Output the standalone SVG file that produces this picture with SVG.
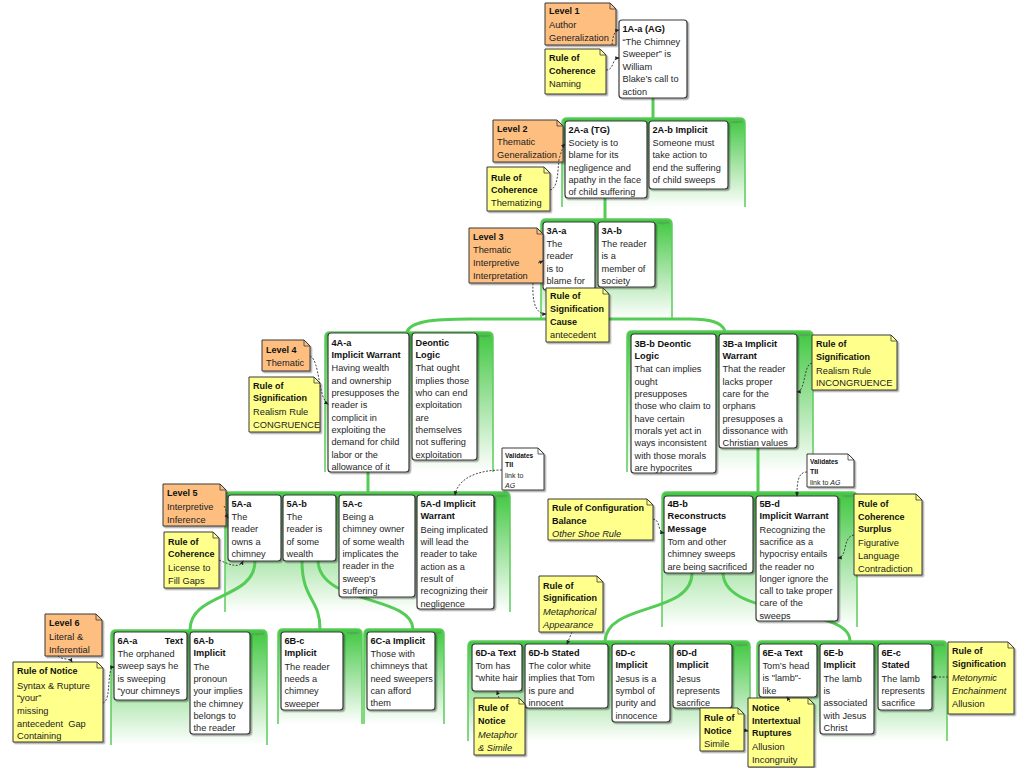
<svg xmlns="http://www.w3.org/2000/svg" width="1024" height="768" viewBox="0 0 1024 768">
<defs>
<linearGradient id="gg" x1="0" y1="0" x2="0" y2="1">
<stop offset="0" stop-color="#3FC83F"/>
<stop offset="0.45" stop-color="#98E098"/>
<stop offset="1" stop-color="#FFFFFF"/>
</linearGradient>
<filter id="sh" x="-10%" y="-10%" width="130%" height="130%">
<feDropShadow dx="1.5" dy="1.5" stdDeviation="0.7" flood-color="#000" flood-opacity="0.35"/>
</filter>
<marker id="ah" viewBox="0 0 6 6" refX="5" refY="3" markerWidth="5" markerHeight="5" orient="auto">
<path d="M0,0.5 L6,3 L0,5.5 Z" fill="#222"/>
</marker>
<style>
.c{fill:url(#gg);stroke:#5CCB5C;stroke-width:1.5}
.sup{font-family:'Liberation Sans',sans-serif;font-size:3.5px;fill:#777}
.lk{fill:none;stroke:#55CC55;stroke-width:3}
.nd{fill:#fff;stroke:#3a3a3a;stroke-width:1.2;filter:url(#sh)}
.no{fill:#FDBE80;stroke:#3a3a3a;stroke-width:1;filter:url(#sh)}
.ny{fill:#FFFF8C;stroke:#3a3a3a;stroke-width:1;filter:url(#sh)}
.nw{fill:#fff;stroke:#3a3a3a;stroke-width:1;filter:url(#sh)}
.fold{fill:none;stroke:#3a3a3a;stroke-width:0.8}
.t{font-family:'Liberation Sans',Arial,sans-serif;font-size:9.2px;fill:#262626}
.b{font-weight:bold;fill:#111}
.n{font-family:'Liberation Sans',Arial,sans-serif;font-size:9.3px;fill:#222}
.nb{font-weight:bold;font-size:9px;fill:#111}
.i{font-style:italic}
.d{fill:none;stroke:#333;stroke-width:0.9;stroke-dasharray:2 1.5;marker-end:url(#ah)}
</style>
</defs>
<rect width="1024" height="768" fill="#fff"/>

<g id="containers">
<path class="c" d="M562,207V123Q562,118 567,118H740Q745,118 745,123V207"/>
<text class="sup" x="742" y="123" text-anchor="end">support</text>
<path class="c" d="M541,319V224Q541,219 546,219H667Q672,219 672,224V319"/>
<text class="sup" x="669" y="224" text-anchor="end">support</text>
<path class="c" d="M325,472V337Q325,332 330,332H488Q493,332 493,337V472"/>
<text class="sup" x="490" y="337" text-anchor="end">support</text>
<path class="c" d="M627,472V336Q627,331 632,331H808Q813,331 813,336V472"/>
<text class="sup" x="810" y="336" text-anchor="end">support</text>
<path class="c" d="M225,612V497Q225,492 230,492H505Q510,492 510,497V612"/>
<text class="sup" x="507" y="497" text-anchor="end">support</text>
<path class="c" d="M662,627V497Q662,492 667,492H852Q857,492 857,497V627"/>
<text class="sup" x="854" y="497" text-anchor="end">support</text>
<path class="c" d="M111,745V635Q111,630 116,630H262Q267,630 267,635V745"/>
<text class="sup" x="264" y="635" text-anchor="end">support</text>
<path class="c" d="M278,724V634Q278,629 283,629H357Q362,629 362,634V724"/>
<text class="sup" x="359" y="634" text-anchor="end">support</text>
<path class="c" d="M364,724V634Q364,629 369,629H439Q444,629 444,634V724"/>
<text class="sup" x="441" y="634" text-anchor="end">support</text>
<path class="c" d="M468,741V646Q468,641 473,641H745Q750,641 750,646V741"/>
<text class="sup" x="747" y="646" text-anchor="end">support</text>
<path class="c" d="M757,741V646Q757,641 762,641H942Q947,641 947,646V741"/>
<text class="sup" x="944" y="646" text-anchor="end">support</text>
</g>

<g id="connectors">
<path class="lk" d="M653,98V118"/>
<path class="lk" d="M605,198V219"/>
<path class="lk" d="M570,319H470C430,319 410,322 407,332"/>
<path class="lk" d="M570,319H690C710,319 722,322 725,331"/>
<path class="lk" d="M368,472V492"/>
<path class="lk" d="M758,448V492"/>
<path class="lk" d="M255,561C255,600 190,592 190,630"/>
<path class="lk" d="M302,561C302,600 320,598 320,629"/>
<path class="lk" d="M318,561C320,605 412,595 413,629"/>
<path class="lk" d="M692,573C692,615 607,602 605,641"/>
<path class="lk" d="M723,573C724,620 850,605 850,641"/>
</g>

<g id="n-1Aa"><rect class="nd" x="619" y="20" width="68" height="78" rx="3"/>
<text class="t" x="622.5" y="32"><tspan class="b">1A-a (AG)</tspan><tspan x="622.5" dy="13">“The Chimney</tspan><tspan x="622.5" dy="12.4">Sweeper” is</tspan><tspan x="622.5" dy="12.4">William</tspan><tspan x="622.5" dy="12.4">Blake’s call to</tspan><tspan x="622.5" dy="12.4">action</tspan></text></g>

<g id="n-2Aa"><rect class="nd" x="565" y="121" width="82" height="77" rx="3"/>
<text class="t" x="568.5" y="133"><tspan class="b">2A-a (TG)</tspan><tspan x="568.5" dy="13">Society is to</tspan><tspan x="568.5" dy="12.3">blame for its</tspan><tspan x="568.5" dy="12.3">negligence and</tspan><tspan x="568.5" dy="12.3">apathy in the face</tspan><tspan x="568.5" dy="12.3">of child suffering</tspan></text></g>

<g id="n-2Ab"><rect class="nd" x="649" y="121" width="79" height="68" rx="3"/>
<text class="t" x="652.5" y="133"><tspan class="b">2A-b Implicit</tspan><tspan x="652.5" dy="13">Someone must</tspan><tspan x="652.5" dy="12.3">take action to</tspan><tspan x="652.5" dy="12.3">end the suffering</tspan><tspan x="652.5" dy="12.3">of child sweeps</tspan></text></g>

<g id="n-3Aa"><rect class="nd" x="543" y="222" width="52" height="68" rx="3"/>
<text class="t" x="546.5" y="234"><tspan class="b">3A-a</tspan><tspan x="546.5" dy="13">The</tspan><tspan x="546.5" dy="12.3">reader</tspan><tspan x="546.5" dy="12.3">is to</tspan><tspan x="546.5" dy="12.3">blame for</tspan></text></g>

<g id="n-3Ab"><rect class="nd" x="598" y="222" width="57" height="65" rx="3"/>
<text class="t" x="601.5" y="234"><tspan class="b">3A-b</tspan><tspan x="601.5" dy="13">The reader</tspan><tspan x="601.5" dy="12.3">is a</tspan><tspan x="601.5" dy="12.3">member of</tspan><tspan x="601.5" dy="12.3">society</tspan></text></g>

<g id="n-4Aa"><rect class="nd" x="328" y="333" width="81" height="139" rx="3"/>
<text class="t" x="331.5" y="345.5"><tspan class="b">4A-a</tspan><tspan class="b" x="331.5" dy="12.3">Implicit Warrant</tspan><tspan x="331.5" dy="13.6">Having wealth</tspan><tspan x="331.5" dy="12.3">and ownership</tspan><tspan x="331.5" dy="12.3">presupposes the</tspan><tspan x="331.5" dy="12.3">reader is</tspan><tspan x="331.5" dy="12.3">complicit in</tspan><tspan x="331.5" dy="12.3">exploiting the</tspan><tspan x="331.5" dy="12.3">demand for child</tspan><tspan x="331.5" dy="12.3">labor or the</tspan><tspan x="331.5" dy="12.3">allowance of it</tspan></text></g>

<g id="n-4Ab"><rect class="nd" x="412" y="333" width="65" height="127" rx="3"/>
<text class="t" x="415.5" y="345.5"><tspan class="b">Deontic</tspan><tspan class="b" x="415.5" dy="12.3">Logic</tspan><tspan x="415.5" dy="13.6">That ought</tspan><tspan x="415.5" dy="12.3">implies those</tspan><tspan x="415.5" dy="12.3">who can end</tspan><tspan x="415.5" dy="12.3">exploitation</tspan><tspan x="415.5" dy="12.3">are</tspan><tspan x="415.5" dy="12.3">themselves</tspan><tspan x="415.5" dy="12.3">not suffering</tspan><tspan x="415.5" dy="12.3">exploitation</tspan></text></g>

<g id="n-3Bb"><rect class="nd" x="631" y="334" width="85" height="139" rx="3"/>
<text class="t" x="634.5" y="346.5"><tspan class="b">3B-b Deontic</tspan><tspan class="b" x="634.5" dy="12.3">Logic</tspan><tspan x="634.5" dy="13.6">That can implies</tspan><tspan x="634.5" dy="12.3">ought</tspan><tspan x="634.5" dy="12.3">presupposes</tspan><tspan x="634.5" dy="12.3">those who claim to</tspan><tspan x="634.5" dy="12.3">have certain</tspan><tspan x="634.5" dy="12.3">morals yet act in</tspan><tspan x="634.5" dy="12.3">ways inconsistent</tspan><tspan x="634.5" dy="12.3">with those morals</tspan><tspan x="634.5" dy="12.3">are hypocrites</tspan></text></g>

<g id="n-3Ba"><rect class="nd" x="719" y="334" width="78" height="114" rx="3"/>
<text class="t" x="722.5" y="346.5"><tspan class="b">3B-a Implicit</tspan><tspan class="b" x="722.5" dy="12.3">Warrant</tspan><tspan x="722.5" dy="13.6">That the reader</tspan><tspan x="722.5" dy="12.3">lacks proper</tspan><tspan x="722.5" dy="12.3">care for the</tspan><tspan x="722.5" dy="12.3">orphans</tspan><tspan x="722.5" dy="12.3">presupposes a</tspan><tspan x="722.5" dy="12.3">dissonance with</tspan><tspan x="722.5" dy="12.3">Christian values</tspan></text></g>

<g id="n-5Aa"><rect class="nd" x="228" y="495" width="53" height="66" rx="3"/>
<text class="t" x="231.5" y="507"><tspan class="b">5A-a</tspan><tspan x="231.5" dy="13">The</tspan><tspan x="231.5" dy="12.3">reader</tspan><tspan x="231.5" dy="12.3">owns a</tspan><tspan x="231.5" dy="12.3">chimney</tspan></text></g>

<g id="n-5Ab"><rect class="nd" x="283" y="495" width="53" height="66" rx="3"/>
<text class="t" x="286.5" y="507"><tspan class="b">5A-b</tspan><tspan x="286.5" dy="13">The</tspan><tspan x="286.5" dy="12.3">reader is</tspan><tspan x="286.5" dy="12.3">of some</tspan><tspan x="286.5" dy="12.3">wealth</tspan></text></g>

<g id="n-5Ac"><rect class="nd" x="339" y="495" width="76" height="102" rx="3"/>
<text class="t" x="342.5" y="507"><tspan class="b">5A-c</tspan><tspan x="342.5" dy="13">Being a</tspan><tspan x="342.5" dy="12.3">chimney owner</tspan><tspan x="342.5" dy="12.3">of some wealth</tspan><tspan x="342.5" dy="12.3">implicates the</tspan><tspan x="342.5" dy="12.3">reader in the</tspan><tspan x="342.5" dy="12.3">sweep’s</tspan><tspan x="342.5" dy="12.3">suffering</tspan></text></g>

<g id="n-5Ad"><rect class="nd" x="417" y="495" width="77" height="114" rx="3"/>
<text class="t" x="420.5" y="507"><tspan class="b">5A-d Implicit</tspan><tspan class="b" x="420.5" dy="12.3">Warrant</tspan><tspan x="420.5" dy="13.4">Being implicated</tspan><tspan x="420.5" dy="12.3">will lead the</tspan><tspan x="420.5" dy="12.3">reader to take</tspan><tspan x="420.5" dy="12.3">action as a</tspan><tspan x="420.5" dy="12.3">result of</tspan><tspan x="420.5" dy="12.3">recognizing their</tspan><tspan x="420.5" dy="12.3">negligence</tspan></text></g>

<g id="n-4Bb"><rect class="nd" x="664" y="496" width="89" height="77" rx="3"/>
<text class="t" x="667.5" y="507"><tspan class="b">4B-b</tspan><tspan class="b" x="667.5" dy="12.4">Reconstructs</tspan><tspan class="b" x="667.5" dy="12.4">Message</tspan><tspan x="667.5" dy="13.2">Tom and other</tspan><tspan x="667.5" dy="12.4">chimney sweeps</tspan><tspan x="667.5" dy="12.4">are being sacrificed</tspan></text></g>

<g id="n-5Bd"><rect class="nd" x="756" y="496" width="82" height="125" rx="3"/>
<text class="t" x="759.5" y="507"><tspan class="b">5B-d</tspan><tspan class="b" x="759.5" dy="12.4">Implicit Warrant</tspan><tspan x="759.5" dy="13.2">Recognizing the</tspan><tspan x="759.5" dy="12.3">sacrifice as a</tspan><tspan x="759.5" dy="12.3">hypocrisy entails</tspan><tspan x="759.5" dy="12.3">the reader no</tspan><tspan x="759.5" dy="12.3">longer ignore the</tspan><tspan x="759.5" dy="12.3">call to take proper</tspan><tspan x="759.5" dy="12.3">care of the</tspan><tspan x="759.5" dy="12.3">sweeps</tspan></text></g>

<g id="n-6Aa"><rect class="nd" x="114" y="632" width="73" height="68" rx="3"/>
<text class="t" x="117.5" y="644"><tspan class="b">6A-a</tspan><tspan class="b" x="183" text-anchor="end">Text</tspan><tspan x="117.5" dy="13">The orphaned</tspan><tspan x="117.5" dy="12.3">sweep says he</tspan><tspan x="117.5" dy="12.3">is sweeping</tspan><tspan x="117.5" dy="12.3">“your chimneys</tspan></text></g>

<g id="n-6Ab"><rect class="nd" x="190" y="632" width="60" height="102" rx="3"/>
<text class="t" x="193.5" y="644"><tspan class="b">6A-b</tspan><tspan class="b" x="193.5" dy="12.3">Implicit</tspan><tspan x="193.5" dy="13.3">The</tspan><tspan x="193.5" dy="12.3">pronoun</tspan><tspan x="193.5" dy="12.3">your implies</tspan><tspan x="193.5" dy="12.3">the chimney</tspan><tspan x="193.5" dy="12.3">belongs to</tspan><tspan x="193.5" dy="12.3">the reader</tspan></text></g>

<g id="n-6Bc"><rect class="nd" x="281" y="632" width="62" height="78" rx="3"/>
<text class="t" x="284.5" y="644"><tspan class="b">6B-c</tspan><tspan class="b" x="284.5" dy="12.3">Implicit</tspan><tspan x="284.5" dy="13.3">The reader</tspan><tspan x="284.5" dy="12.3">needs a</tspan><tspan x="284.5" dy="12.3">chimney</tspan><tspan x="284.5" dy="12.3">sweeper</tspan></text></g>

<g id="n-6Ca"><rect class="nd" x="367" y="632" width="68" height="78" rx="3"/>
<text class="t" x="370.5" y="644"><tspan class="b">6C-a Implicit</tspan><tspan x="370.5" dy="13">Those with</tspan><tspan x="370.5" dy="12.3">chimneys that</tspan><tspan x="370.5" dy="12.3">need sweepers</tspan><tspan x="370.5" dy="12.3">can afford</tspan><tspan x="370.5" dy="12.3">them</tspan></text></g>

<g id="n-6Da"><rect class="nd" x="472" y="644" width="50" height="47" rx="3"/>
<text class="t" x="475.5" y="656"><tspan class="b">6D-a Text</tspan><tspan x="475.5" dy="13">Tom has</tspan><tspan x="475.5" dy="12.3">“white hair</tspan></text></g>

<g id="n-6Db"><rect class="nd" x="525" y="644" width="83" height="64" rx="3"/>
<text class="t" x="528.5" y="656"><tspan class="b">6D-b Stated</tspan><tspan x="528.5" dy="13">The color white</tspan><tspan x="528.5" dy="12.3">implies that Tom</tspan><tspan x="528.5" dy="12.3">is pure and</tspan><tspan x="528.5" dy="12.3">innocent</tspan></text></g>

<g id="n-6Dc"><rect class="nd" x="612" y="644" width="58" height="78" rx="3"/>
<text class="t" x="615.5" y="656"><tspan class="b">6D-c</tspan><tspan class="b" x="615.5" dy="12.3">Implicit</tspan><tspan x="615.5" dy="13.3">Jesus is a</tspan><tspan x="615.5" dy="12.3">symbol of</tspan><tspan x="615.5" dy="12.3">purity and</tspan><tspan x="615.5" dy="12.3">innocence</tspan></text></g>

<g id="n-6Dd"><rect class="nd" x="673" y="644" width="59" height="64" rx="3"/>
<text class="t" x="676.5" y="656"><tspan class="b">6D-d</tspan><tspan class="b" x="676.5" dy="12.3">Implicit</tspan><tspan x="676.5" dy="13.3">Jesus</tspan><tspan x="676.5" dy="12.3">represents</tspan><tspan x="676.5" dy="12.3">sacrifice</tspan></text></g>

<g id="n-6Ea"><rect class="nd" x="759" y="644" width="58" height="53" rx="3"/>
<text class="t" x="762.5" y="656"><tspan class="b">6E-a Text</tspan><tspan x="762.5" dy="13">Tom’s head</tspan><tspan x="762.5" dy="12.3">is "lamb"-</tspan><tspan x="762.5" dy="12.3">like</tspan></text></g>

<g id="n-6Eb"><rect class="nd" x="820" y="644" width="54" height="90" rx="3"/>
<text class="t" x="823.5" y="656"><tspan class="b">6E-b</tspan><tspan class="b" x="823.5" dy="12.3">Implicit</tspan><tspan x="823.5" dy="13.3">The lamb</tspan><tspan x="823.5" dy="12.3">is</tspan><tspan x="823.5" dy="12.3">associated</tspan><tspan x="823.5" dy="12.3">with Jesus</tspan><tspan x="823.5" dy="12.3">Christ</tspan></text></g>

<g id="n-6Ec"><rect class="nd" x="878" y="644" width="54" height="66" rx="3"/>
<text class="t" x="881.5" y="656"><tspan class="b">6E-c</tspan><tspan class="b" x="881.5" dy="12.3">Stated</tspan><tspan x="881.5" dy="13.3">The lamb</tspan><tspan x="881.5" dy="12.3">represents</tspan><tspan x="881.5" dy="12.3">sacrifice</tspan></text></g>

<g id="note-level1"><path class="no" d="M545,3H610L616,9V45H545Z"/><path class="fold" d="M610,3V9H616"/>
<text class="n" x="549" y="14"><tspan class="nb">Level 1</tspan><tspan x="549" dy="13.5">Author</tspan><tspan x="549" dy="13">Generalization</tspan></text></g>

<g id="note-coh-naming"><path class="ny" d="M545,49H600L606,55V94H545Z"/><path class="fold" d="M600,49V55H606"/>
<text class="n" x="549" y="61"><tspan class="nb">Rule of</tspan><tspan class="nb" x="549" dy="13">Coherence</tspan><tspan x="549" dy="13">Naming</tspan></text></g>

<g id="note-level2"><path class="no" d="M493,120H557L563,126V162H493Z"/><path class="fold" d="M557,120V126H563"/>
<text class="n" x="497" y="131.5"><tspan class="nb">Level 2</tspan><tspan x="497" dy="13.5">Thematic</tspan><tspan x="497" dy="13">Generalization</tspan></text></g>

<g id="note-coh-them"><path class="ny" d="M487,167H544L550,173V211H487Z"/><path class="fold" d="M544,167V173H550"/>
<text class="n" x="491" y="180.5"><tspan class="nb">Rule of</tspan><tspan class="nb" x="491" dy="12.5">Coherence</tspan><tspan x="491" dy="13">Thematizing</tspan></text></g>

<g id="note-level3"><path class="no" d="M469,228H537L543,234V283H469Z"/><path class="fold" d="M537,228V234H543"/>
<text class="n" x="473" y="239.5"><tspan class="nb">Level 3</tspan><tspan x="473" dy="13.5">Thematic</tspan><tspan x="473" dy="13">Interpretive</tspan><tspan x="473" dy="13">Interpretation</tspan></text></g>

<g id="note-sig-cause"><path class="ny" d="M546,288H603L609,294V342H546Z"/><path class="fold" d="M603,288V294H609"/>
<text class="n" x="550" y="298.5"><tspan class="nb">Rule of</tspan><tspan class="nb" x="550" dy="13">Signification</tspan><tspan class="nb" x="550" dy="13">Cause</tspan><tspan x="550" dy="13">antecedent</tspan></text></g>

<g id="note-level4"><path class="no" d="M262,340H304L310,346V371H262Z"/><path class="fold" d="M304,340V346H310"/>
<text class="n" x="266" y="352.5"><tspan class="nb">Level 4</tspan><tspan x="266" dy="13.5">Thematic</tspan></text></g>

<g id="note-sig-cong"><path class="ny" d="M249,377H314L320,383V432H249Z"/><path class="fold" d="M314,377V383H320"/>
<text class="n" x="253" y="388.5"><tspan class="nb">Rule of</tspan><tspan class="nb" x="253" dy="12.5">Signification</tspan><tspan x="253" dy="14">Realism Rule</tspan><tspan x="253" dy="12.5">CONGRUENCE</tspan></text></g>

<g id="note-sig-incong"><path class="ny" d="M812,335H891L897,341V390H812Z"/><path class="fold" d="M891,335V341H897"/>
<text class="n" x="816" y="346.5"><tspan class="nb">Rule of</tspan><tspan class="nb" x="816" dy="13">Signification</tspan><tspan x="816" dy="14">Realism Rule</tspan><tspan x="816" dy="12.5">INCONGRUENCE</tspan></text></g>

<g id="note-validates-1"><path class="nw" d="M502,448H538L544,454V490H502Z"/><path class="fold" d="M538,448V454H544"/>
<text class="n" x="505" y="457.5" style="font-size:7px"><tspan class="nb" style="font-size:6.5px">Validates</tspan><tspan class="nb" style="font-size:7px" x="505" dy="9.5">TII</tspan><tspan x="505" dy="11">link to</tspan><tspan class="i" x="505" dy="10">AG</tspan></text></g>

<g id="note-validates-2"><path class="nw" d="M807,454H848L854,460V487H807Z"/><path class="fold" d="M848,454V460H854"/>
<text class="n" x="810" y="463.5" style="font-size:7px"><tspan class="nb" style="font-size:6.5px">Validates</tspan><tspan class="nb" style="font-size:7px" x="810" dy="10">TII</tspan><tspan x="810" dy="11">link to <tspan class="i">AG</tspan></tspan></text></g>

<g id="note-level5"><path class="no" d="M163,484H220L226,490V526H163Z"/><path class="fold" d="M220,484V490H226"/>
<text class="n" x="167" y="495.5"><tspan class="nb">Level 5</tspan><tspan x="167" dy="14">Interpretive</tspan><tspan x="167" dy="13">Inference</tspan></text></g>

<g id="note-coh-gaps"><path class="ny" d="M164,532H213L219,538V588H164Z"/><path class="fold" d="M213,532V538H219"/>
<text class="n" x="168" y="544.5"><tspan class="nb">Rule of</tspan><tspan class="nb" x="168" dy="12">Coherence</tspan><tspan x="168" dy="14">License to</tspan><tspan x="168" dy="13">Fill Gaps</tspan></text></g>

<g id="note-config"><path class="ny" d="M548,499H647L653,505V540H548Z"/><path class="fold" d="M647,499V505H653"/>
<text class="n" x="552" y="510.5"><tspan class="nb">Rule of Configuration</tspan><tspan class="nb" x="552" dy="13">Balance</tspan><tspan class="i" x="552" dy="13">Other Shoe Rule</tspan></text></g>

<g id="note-coh-surplus"><path class="ny" d="M854,494H916L922,500V575H854Z"/><path class="fold" d="M916,494V500H922"/>
<text class="n" x="858" y="506.5"><tspan class="nb">Rule of</tspan><tspan class="nb" x="858" dy="13">Coherence</tspan><tspan class="nb" x="858" dy="12.5">Surplus</tspan><tspan x="858" dy="13.5">Figurative</tspan><tspan x="858" dy="13">Language</tspan><tspan x="858" dy="13">Contradiction</tspan></text></g>

<g id="note-level6"><path class="no" d="M45,614H96L102,620V656H45Z"/><path class="fold" d="M96,614V620H102"/>
<text class="n" x="49" y="625.5"><tspan class="nb">Level 6</tspan><tspan x="49" dy="14.5">Literal &amp;</tspan><tspan x="49" dy="12.5">Inferential</tspan></text></g>

<g id="note-notice-syntax"><path class="ny" d="M13,662H97L103,668V742H13Z"/><path class="fold" d="M97,662V668H103"/>
<text class="n" x="17" y="673.5"><tspan class="nb">Rule of Notice</tspan><tspan x="17" dy="15">Syntax &amp; Rupture</tspan><tspan x="17" dy="12">“your”</tspan><tspan x="17" dy="13">missing</tspan><tspan x="17" dy="13" xml:space="preserve">antecedent  Gap</tspan><tspan x="17" dy="12">Containing</tspan></text></g>

<g id="note-sig-metaph"><path class="ny" d="M539,576H597L603,582V632H539Z"/><path class="fold" d="M597,576V582H603"/>
<text class="n" x="543" y="588.5"><tspan class="nb">Rule of</tspan><tspan class="nb" x="543" dy="12">Signification</tspan><tspan class="i" x="543" dy="14">Metaphorical</tspan><tspan class="i" x="543" dy="13">Appearance</tspan></text></g>

<g id="note-notice-simile1"><path class="ny" d="M474,698H519L525,704V755H474Z"/><path class="fold" d="M519,698V704H525"/>
<text class="n" x="478" y="710.5"><tspan class="nb">Rule of</tspan><tspan class="nb" x="478" dy="13">Notice</tspan><tspan class="i" x="478" dy="14">Metaphor</tspan><tspan class="i" x="478" dy="13">&amp; Simile</tspan></text></g>

<g id="note-notice-simile2"><path class="ny" d="M700,708H738L744,714V751H700Z"/><path class="fold" d="M738,708V714H744"/>
<text class="n" x="704" y="720.5"><tspan class="nb">Rule of</tspan><tspan class="nb" x="704" dy="13">Notice</tspan><tspan x="704" dy="13.5">Simile</tspan></text></g>

<g id="note-intertextual"><path class="ny" d="M748,698H808L814,704V767H748Z"/><path class="fold" d="M808,698V704H814"/>
<text class="n" x="752" y="710.5"><tspan class="nb">Notice</tspan><tspan class="nb" x="752" dy="13">Intertextual</tspan><tspan class="nb" x="752" dy="12">Ruptures</tspan><tspan x="752" dy="14">Allusion</tspan><tspan x="752" dy="13">Incongruity</tspan></text></g>

<g id="note-sig-metonymic"><path class="ny" d="M948,642H1008L1014,648V714H948Z"/><path class="fold" d="M1008,642V648H1014"/>
<text class="n" x="952" y="653.5"><tspan class="nb">Rule of</tspan><tspan class="nb" x="952" dy="13">Signification</tspan><tspan class="i" x="952" dy="14">Metonymic</tspan><tspan class="i" x="952" dy="13">Enchainment</tspan><tspan x="952" dy="13">Allusion</tspan></text></g>

<g id="annotation-links">
<path class="d" d="M612,45C613,36 614,31 619,30"/>
<path class="d" d="M606,70C615,70 611,58 619,58"/>
<path class="d" d="M550,190C560,188 557,162 560,156C562,150 563,146 565,144"/>
<path class="d" d="M533,283C532,303 536,314 546,314"/>
<path class="d" d="M538,263L543,261"/>
<path class="d" d="M310,356C320,360 318,398 328,404"/>
<path class="d" d="M812,363C803,365 806,391 797,392"/>
<path class="d" d="M502,470C478,470 458,478 455,495"/>
<path class="d" d="M807,472C798,472 797,482 797,496"/>
<path class="d" d="M219,560C232,566 240,568 243,561"/>
<path class="d" d="M224,506C228,512 226,515 228,518"/>
<path class="d" d="M653,519C661,520 657,532 664,533"/>
<path class="d" d="M854,535C842,537 848,557 838,558"/>
<path class="d" d="M58,656C62,660 70,658 72,662"/>
<path class="d" d="M103,703C112,700 106,667 114,667"/>
<path class="d" d="M572,632L567,644"/>
<path class="d" d="M499,698L497,691"/>
<path class="d" d="M744,730L748,731"/>
<path class="d" d="M948,677L932,677"/>
<path class="d" d="M790,702L787,697"/>
</g>
</svg>
